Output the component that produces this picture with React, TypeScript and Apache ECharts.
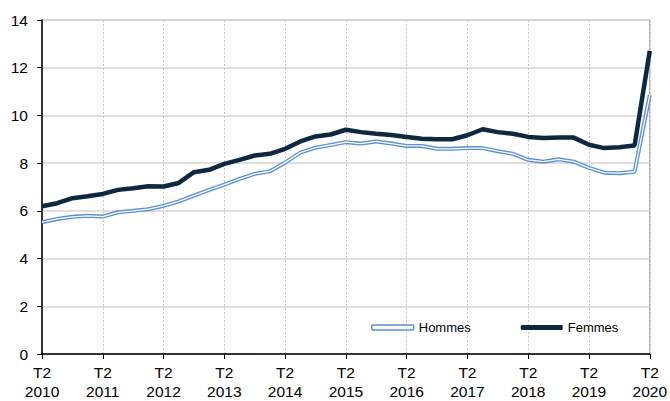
import React, { useEffect, useRef } from "react";
import * as echarts from "echarts";

const quarters: string[] = [];
for (let y = 2010; y <= 2020; y++) {
  for (const q of ["T2", "T3", "T4", "T1"]) {
    if (y === 2020 && q !== "T2") break;
    const yr = q === "T1" ? y + 1 : y;
    quarters.push(`${q}\n${yr}`);
  }
}

const hommes = [
  5.52, 5.66, 5.75, 5.79, 5.76, 5.94, 6.0, 6.07, 6.21, 6.4, 6.64, 6.88, 7.1, 7.34,
  7.55, 7.66, 8.02, 8.44, 8.65, 8.76, 8.88, 8.82, 8.91, 8.82, 8.72, 8.72, 8.6, 8.6,
  8.63, 8.63, 8.5, 8.39, 8.14, 8.06, 8.16, 8.06, 7.8, 7.6, 7.58, 7.64, 10.85,
];

const femmes = [
  6.19, 6.32, 6.53, 6.61, 6.71, 6.88, 6.95, 7.03, 7.02, 7.17, 7.62, 7.72, 7.97, 8.14,
  8.32, 8.39, 8.6, 8.91, 9.12, 9.2, 9.4, 9.3, 9.23, 9.18, 9.1, 9.02, 9.0, 9.0,
  9.17, 9.42, 9.3, 9.23, 9.1, 9.05, 9.07, 9.07, 8.77, 8.63, 8.67, 8.74, 12.71,
];

const yTicks = { min: 0, max: 14, interval: 2 };

const BLUE = "#5b8fd8";
const NAVY = "#0e2841";

export default function App() {
  const ref = useRef<HTMLDivElement>(null);
  useEffect(() => {
    if (!ref.current) return;
    const chart = echarts.init(ref.current, null, { renderer: "svg" });
    chart.setOption({
      animation: false,
      textStyle: { fontFamily: "Liberation Sans, Arial, sans-serif" },
      grid: {
        left: 42,
        right: 20,
        top: 20,
        bottom: 47,
        show: true,
        borderColor: "#a0a0a0",
        borderWidth: 1,
      },
      legend: {
        left: 366,
        top: 316,
        itemWidth: 42,
        itemHeight: 5,
        itemGap: 50,
        textStyle: { fontSize: 13, color: "#000" },
        data: [
          {
            name: "Hommes",
            icon: "roundRect",
            itemStyle: { color: "#fff", borderColor: BLUE, borderWidth: 1.5 },
          },
          { name: "Femmes", icon: "roundRect", itemStyle: { color: NAVY } },
        ],
      },
      xAxis: {
        type: "category",
        data: quarters,
        boundaryGap: false,
        axisLine: { lineStyle: { color: "#000", width: 1.5 } },
        axisTick: { interval: 3, length: 5, lineStyle: { color: "#000" } },
        axisLabel: {
          interval: 3,
          fontSize: 15.5,
          color: "#000",
          lineHeight: 19,
          margin: 9,
        },
        splitLine: {
          show: true,
          interval: 3,
          lineStyle: { color: "#c8c8c8", type: [2, 2], width: 1 },
        },
      },
      yAxis: {
        type: "value",
        min: yTicks.min,
        max: yTicks.max,
        interval: yTicks.interval,
        axisLine: { show: true, lineStyle: { color: "#000", width: 1.5 } },
        axisTick: { show: true, length: 5, lineStyle: { color: "#000" } },
        axisLabel: { fontSize: 15.5, color: "#000", margin: 14 },
        splitLine: { lineStyle: { color: "#d4d4d4", width: 1.5 } },
      },
      series: [
        {
          name: "Hommes",
          type: "line",
          data: hommes,
          showSymbol: false,
          lineStyle: { color: BLUE, width: 4 },
          itemStyle: { color: BLUE },
          z: 2,
        },
        {
          name: "Hommes_inner",
          type: "line",
          data: hommes,
          showSymbol: false,
          silent: true,
          lineStyle: { color: "#ffffff", width: 1.3 },
          z: 3,
        },
        {
          name: "Femmes",
          type: "line",
          data: femmes,
          showSymbol: false,
          lineStyle: { color: NAVY, width: 4.5 },
          itemStyle: { color: NAVY },
          z: 4,
        },
      ],
    });
    return () => chart.dispose();
  }, []);
  return <div ref={ref} style={{ width: 670, height: 401, position: "absolute", left: 0, top: 0 }} />;
}
